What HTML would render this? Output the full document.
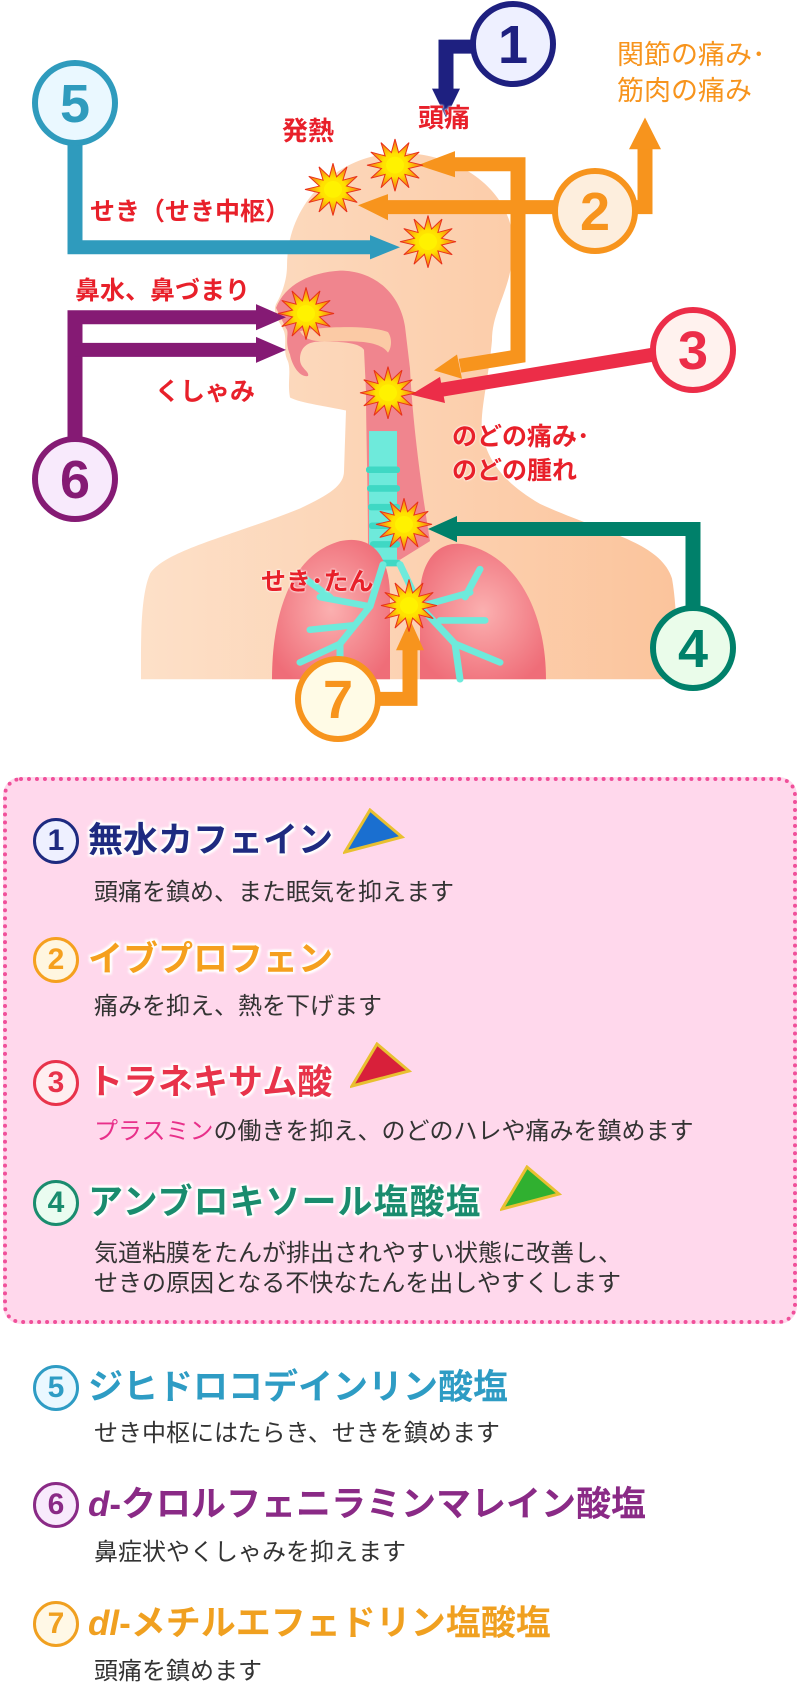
<!DOCTYPE html>
<html><head><meta charset="utf-8">
<style>
html,body{margin:0;padding:0;background:#fff;}
body{width:800px;height:1684px;position:relative;overflow:hidden;font-family:"Liberation Sans","Noto Sans CJK JP",sans-serif;}
.box{position:absolute;left:3px;top:777px;width:786px;height:539px;border:4px dotted #f0509a;border-radius:18px;background:#ffd8ec;}
.num{position:absolute;width:40px;height:40px;border-radius:50%;border:3px solid;background:#eef0ff;font-weight:bold;font-size:30px;line-height:40px;text-align:center;}
.h{position:absolute;left:88px;font-weight:bold;font-size:35px;line-height:40px;white-space:nowrap;text-shadow:0 0 3px #fff,0 0 3px #fff,2px 2px 2px #fff,-2px -2px 2px #fff,2px -2px 2px #fff,-2px 2px 2px #fff;}
.d{position:absolute;left:94px;font-size:24px;line-height:32px;color:#333;white-space:nowrap;}
.lbl{position:absolute;font-weight:bold;color:#e8202a;white-space:nowrap;font-size:24px;line-height:28px;text-shadow:0 0 2px #fff,0 0 2px #fff;}
</style></head><body>
<svg width="800" height="790" style="position:absolute;left:0;top:0" xmlns="http://www.w3.org/2000/svg">
<defs>
<radialGradient id="sg"><stop offset="0" stop-color="#fff200"/><stop offset="0.45" stop-color="#ffe000"/><stop offset="1" stop-color="#f26a1b"/></radialGradient>
<radialGradient id="lg" cx="0.5" cy="0.5" r="0.6"><stop offset="0" stop-color="#fbb0b0"/><stop offset="1" stop-color="#ef6d78"/></radialGradient>
<linearGradient id="skin" x1="0" y1="0" x2="1" y2="0"><stop offset="0" stop-color="#fde0c8"/><stop offset="1" stop-color="#fbc49c"/></linearGradient>
<g id="star"><polygon points="28,0 13.5,3.6 24.2,14 9.9,9.9 14,24.2 3.6,13.5 0,28 -3.6,13.5 -14,24.2 -9.9,9.9 -24.2,14 -13.5,3.6 -28,0 -13.5,-3.6 -24.2,-14 -9.9,-9.9 -14,-24.2 -3.6,-13.5 0,-28 3.6,-13.5 14,-24.2 9.9,-9.9 24.2,-14 13.5,-3.6" fill="url(#sg)" stroke="#e8301a" stroke-width="1"/><circle r="9" fill="#fff200"/></g>
</defs>
<g transform="scale(1,0.933)">
<path d="M400,164 C460,164 513,205 513,262 C513,310 492,330 492,365 C488,410 480,440 482,462 C486,490 500,515 540,540 C600,570 660,580 672,620 C677,650 677,690 677,728 L141,728 C141,690 140,640 150,615 C165,590 230,575 300,545 C330,530 344,520 344,505 L346,440 C330,436 300,432 290,426 C287,410 292,395 287,385 C283,375 287,365 284,355 C280,345 272,336 276,326 C282,315 287,300 287,285 C287,215 340,164 400,164 Z" fill="url(#skin)"/>
<path d="M276,330 C285,305 310,292 340,290 C375,290 400,315 405,350 L410,395 C412,440 418,500 430,580 L400,600 L368,600 C368,520 366,460 366,420 L364,375 C360,368 345,366 320,366 C308,366 300,372 300,385 C300,395 310,398 308,403 C300,405 292,392 290,380 C284,365 290,356 286,352 Z" fill="#f0858e"/>
<path d="M300,355 C320,350 370,348 388,356 C392,362 392,372 388,378 C380,366 360,365 330,366 C315,366 305,365 300,355 Z" fill="#fbcaa5"/>
<rect x="369" y="462" width="28" height="143" fill="#6eeadb"/>
<g fill="#3fd8c4"><rect x="366" y="500" width="34" height="7" rx="3"/><rect x="367" y="520" width="33" height="7" rx="3"/><rect x="368" y="540" width="32" height="7" rx="3"/><rect x="369" y="560" width="30" height="7" rx="3"/><rect x="370" y="580" width="30" height="7" rx="3"/><rect x="371" y="600" width="30" height="7" rx="3"/></g>
<path d="M272,728 C272,660 290,595 340,580 C375,572 390,600 390,640 L390,728 Z" fill="url(#lg)"/>
<path d="M420,728 L420,640 C420,600 440,575 470,585 C520,600 546,660 546,728 Z" fill="url(#lg)"/>
<g stroke="#6eeadb" stroke-width="7" fill="none" stroke-linecap="round">
<path d="M383,605 L370,650 L340,690 L300,710 M370,650 L320,640 M340,690 L340,728 M355,670 L310,675 M330,640 L305,620"/>
<path d="M400,605 L420,650 L455,690 L500,710 M420,650 L470,635 M455,690 L460,728 M440,665 L485,665 M465,640 L480,610"/>
</g>
<g fill="none" stroke-width="15" stroke-linejoin="miter">
<polyline points="472,50 446,50 446,97" stroke="#1e2080"/>
<polyline points="75,150 75,265 372,265" stroke="#2f9bbd"/>
<polyline points="556,222 385,222" stroke="#f7941d"/>
<polyline points="455,176 518,176 518,382 460,392" stroke="#f7941d"/>
<polyline points="636,222 645,222 645,158" stroke="#f7941d"/>
<polyline points="654,380 440,418" stroke="#ec2d48"/>
<polyline points="75,472 75,340 258,340" stroke="#851a74"/>
<polyline points="75,375 258,375" stroke="#851a74"/>
<polyline points="693,654 693,567 455,567" stroke="#00806a"/>
<polyline points="378,749 410,749 410,695" stroke="#f7941d"/>
</g>
<polygon points="432,95 460,95 446,126" fill="#1e2080"/>
<polygon points="370,252 370,278 400,265" fill="#2f9bbd"/>
<polygon points="388,208 388,236 358,220" fill="#f7941d"/>
<polygon points="455,162 455,190 418,177" fill="#f7941d"/>
<polygon points="457,380 462,406 434,397" fill="#f7941d"/>
<polygon points="629,160 661,160 645,126" fill="#f7941d"/>
<polygon points="440,404 445,432 411,423" fill="#ec2d48"/>
<polygon points="256,326 256,354 286,340" fill="#851a74"/>
<polygon points="256,361 256,389 286,375" fill="#851a74"/>
<polygon points="457,553 457,581 428,567" fill="#00806a"/>
<polygon points="396,697 424,697 410,664" fill="#f7941d"/>
<use href="#star" x="395" y="177"/><use href="#star" x="333" y="203"/><use href="#star" x="428" y="259"/>
<use href="#star" x="306" y="336"/><use href="#star" x="388" y="421"/><use href="#star" x="404" y="562"/><use href="#star" x="409" y="649"/>
</g>
<g stroke-width="6" font-family="Liberation Sans, sans-serif" font-weight="bold" font-size="54" text-anchor="middle">
<circle cx="513" cy="44" r="40" fill="#eef0ff" stroke="#1e2080"/><text x="513" y="63" fill="#1e2080">1</text>
<circle cx="75" cy="103" r="40" fill="#eaf8ff" stroke="#2f9bbd"/><text x="75" y="122" fill="#2f9bbd">5</text>
<circle cx="595" cy="211" r="40" fill="#fdeedd" stroke="#f7941d"/><text x="595" y="230" fill="#f7941d">2</text>
<circle cx="693" cy="350" r="40" fill="#fff2ee" stroke="#ec2d48"/><text x="693" y="369" fill="#ec2d48">3</text>
<circle cx="75" cy="479" r="40" fill="#f8eafc" stroke="#851a74"/><text x="75" y="498" fill="#851a74">6</text>
<circle cx="693" cy="648" r="40" fill="#eafcea" stroke="#00806a"/><text x="693" y="667" fill="#00806a">4</text>
<circle cx="338" cy="699" r="40" fill="#fffbe6" stroke="#f7941d"/><text x="338" y="718" fill="#f7941d">7</text>
</g>
</svg>
<div class="lbl" style="left:282px;top:117px;font-size:26px">発熱</div>
<div class="lbl" style="left:418px;top:104px;font-size:26px">頭痛</div>
<div class="lbl" style="left:90px;top:198px;font-size:25px">せき（せき中枢）</div>
<div class="lbl" style="left:75px;top:277px;font-size:25px">鼻水、鼻づまり</div>
<div class="lbl" style="left:155px;top:378px;font-size:25px">くしゃみ</div>
<div class="lbl" style="left:452px;top:423px;font-size:25px">のどの痛み･</div>
<div class="lbl" style="left:452px;top:457px;font-size:25px">のどの腫れ</div>
<div class="lbl" style="left:261px;top:568px;font-size:25px">せき･たん</div>
<div class="lbl" style="left:617px;top:37px;font-size:27px;line-height:36px;color:#f7941d;font-weight:normal">関節の痛み･<br>筋肉の痛み</div>

<div class="box"></div>
<div class="num" style="left:33px;top:818px;color:#1e2a80;border-color:#1e2a80;background:#eef0ff">1</div>
<div class="h" style="top:821px;color:#1e2a80">無水カフェイン</div>
<svg style="position:absolute;left:343px;top:808px" width="62" height="48"><polygon points="2,44 27,2 59,29" fill="#1a6fd0" stroke="#e8c030" stroke-width="3"/></svg>
<div class="d" style="top:877px">頭痛を鎮め、また眠気を抑えます</div>

<div class="num" style="left:33px;top:937px;color:#f5a01e;border-color:#f5a01e;background:#fff6e0">2</div>
<div class="h" style="top:940px;color:#f5a01e">イブプロフェン</div>
<div class="d" style="top:991px">痛みを抑え、熱を下げます</div>

<div class="num" style="left:33px;top:1060px;color:#e8334a;border-color:#e8334a;background:#ffeef0">3</div>
<div class="h" style="top:1063px;color:#e8334a">トラネキサム酸</div>
<svg style="position:absolute;left:350px;top:1042px" width="62" height="48"><polygon points="2,44 27,2 59,29" fill="#d8203a" stroke="#e8c030" stroke-width="3"/></svg>
<div class="d" style="top:1116px"><span style="color:#e8308a">プラスミン</span>の働きを抑え、のどのハレや痛みを鎮めます</div>

<div class="num" style="left:33px;top:1180px;color:#1a8c6e;border-color:#1a8c6e;background:#eafcf0">4</div>
<div class="h" style="top:1183px;color:#1a8c6e;letter-spacing:1px">アンブロキソール塩酸塩</div>
<svg style="position:absolute;left:500px;top:1165px" width="62" height="48"><polygon points="2,44 27,2 59,29" fill="#30b030" stroke="#e8c030" stroke-width="3"/></svg>
<div class="d" style="top:1239px;line-height:30px">気道粘膜をたんが排出されやすい状態に改善し、<br>せきの原因となる不快なたんを出しやすくします</div>

<div class="num" style="left:33px;top:1365px;color:#2e9cc4;border-color:#2e9cc4;background:#eaf8ff">5</div>
<div class="h" style="top:1368px;color:#2e9cc4">ジヒドロコデインリン酸塩</div>
<div class="d" style="top:1418px">せき中枢にはたらき、せきを鎮めます</div>

<div class="num" style="left:33px;top:1482px;color:#8a2a86;border-color:#8a2a86;background:#f8eafc">6</div>
<div class="h" style="top:1485px;color:#8a2a86"><i>d</i>-クロルフェニラミンマレイン酸塩</div>
<div class="d" style="top:1537px">鼻症状やくしゃみを抑えます</div>

<div class="num" style="left:33px;top:1601px;color:#f0a020;border-color:#f0a020;background:#fff8e6">7</div>
<div class="h" style="top:1604px;color:#f0a020"><i>dl</i>-メチルエフェドリン塩酸塩</div>
<div class="d" style="top:1656px">頭痛を鎮めます</div>
</body></html>
